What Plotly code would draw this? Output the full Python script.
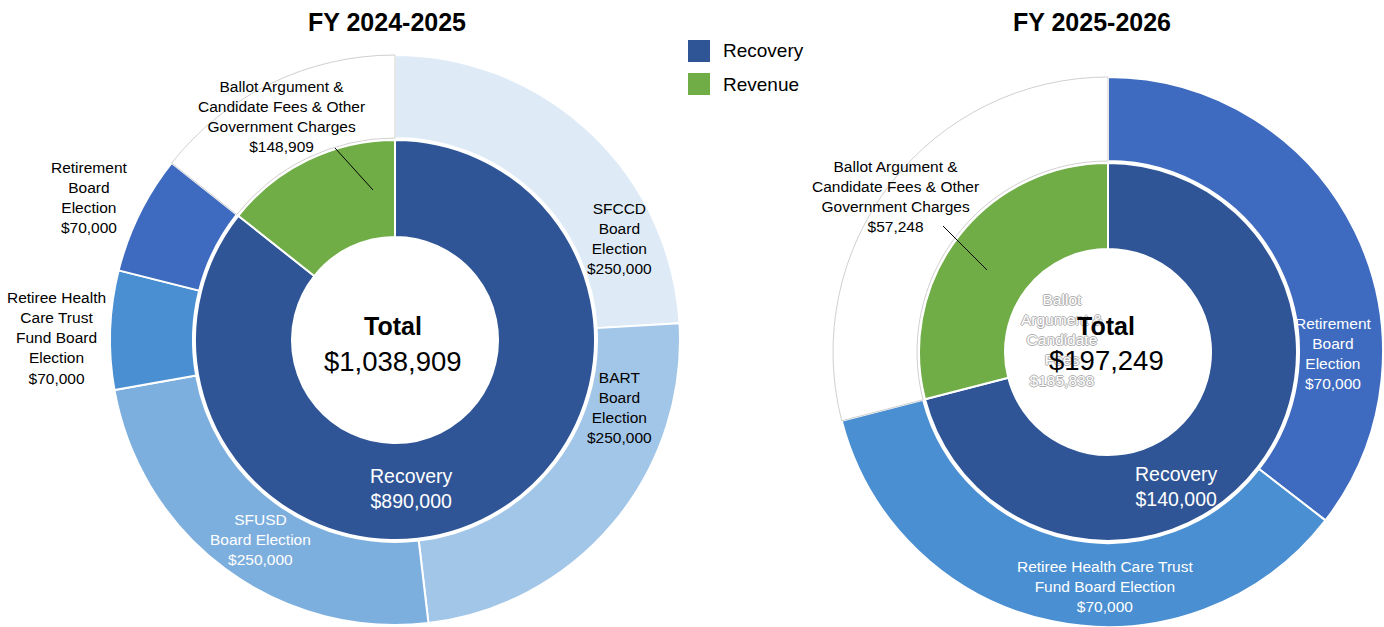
import plotly.graph_objects as go

W, H = 1384, 627

# ---------------- data ----------------
inner_labels = ["Recovery", "Revenue"]
fy24_inner_values = [890000, 148909]
fy25_inner_values = [140000, 57248]

fy24_outer_labels = ["SFCCD Board Election", "BART Board Election", "SFUSD Board Election",
                     "Retiree Health Care Trust Fund Board Election", "Retirement Board Election",
                     "Ballot Argument & Candidate Fees & Other Government Charges"]
fy24_outer_values = [250000, 250000, 250000, 70000, 70000, 148909]

fy25_outer_labels = ["Retirement Board Election", "Retiree Health Care Trust Fund Board Election",
                     "Ballot Argument & Candidate Fees & Other Government Charges"]
fy25_outer_values = [70000, 70000, 57248]

totals = [1038909, 197249]
titles = ["FY 2024-2025", "FY 2025-2026"]
ghost_value = 185838

# ---------------- style ----------------
C_REC = "#2F5597"
C_REV = "#70AD47"
fy24_outer_colors = ["#DEEBF7", "#A2C6E8", "#7DAFDE", "#4A8FD1", "#3E6BBF", "#FFFFFF"]
fy25_outer_colors = ["#3E6BBF", "#4A8FD1", "#FFFFFF"]
FONT = "Liberation Sans Narrow, Arial Narrow, Liberation Sans, Arial, sans-serif"
LBL = 15.5


def px(x):
    return x / W


def py(y):
    return 1 - y / H


def dom(cx, cy, r):
    return dict(x=[px(cx - r), px(cx + r)], y=[py(cy + r), py(cy - r)])


def money(v):
    return f"${v:,}"


# geometry (pixels)
L = dict(cx=395, cy=340, ro=285, ri=200, rh=103)
R = dict(cx=1108, cy=352, ro=275, ri=189, rh=103)

fig = go.Figure()


def add_pies(g, inner_vals, outer_labels, outer_vals, outer_colors):
    line_cols = ["#D0D0D0" if c == "#FFFFFF" else "white" for c in outer_colors]
    line_w = [1 if c == "#FFFFFF" else 2 for c in outer_colors]
    fig.add_trace(go.Pie(
        labels=outer_labels, values=outer_vals, sort=False, direction="clockwise", rotation=0,
        hole=(g["ri"] + 2) / g["ro"], domain=dom(g["cx"], g["cy"], g["ro"]),
        marker=dict(colors=outer_colors, line=dict(color=line_cols, width=line_w)),
        textinfo="none", showlegend=False, hoverinfo="label+value"))
    fig.add_trace(go.Pie(
        labels=inner_labels, values=inner_vals, sort=False, direction="clockwise", rotation=0,
        hole=g["rh"] / g["ri"], domain=dom(g["cx"], g["cy"], g["ri"]),
        marker=dict(colors=[C_REC, C_REV], line=dict(color="white", width=2)),
        textinfo="none", showlegend=False, hoverinfo="label+value"))


add_pies(L, fy24_inner_values, fy24_outer_labels, fy24_outer_values, fy24_outer_colors)
add_pies(R, fy25_inner_values, fy25_outer_labels, fy25_outer_values, fy25_outer_colors)

ann = []


def text(x, y, t, size=LBL, color="black", bold=False, shadow=None):
    f = dict(family=FONT, size=size, color=color)
    if bold:
        f["weight"] = "bold"
    if shadow:
        f["shadow"] = shadow
    ann.append(dict(x=px(x), y=py(y), xref="paper", yref="paper", text=t, showarrow=False,
                    xanchor="center", yanchor="middle", align="center", font=f))


# titles
text(387, 22, titles[0], size=25, bold=True)
text(1092, 22, titles[1], size=25, bold=True)

# left chart labels
text(281, 117, "Ballot Argument &<br>Candidate Fees & Other<br>Government Charges<br>" + money(fy24_outer_values[5]))
text(89, 197, "Retirement<br>Board<br>Election<br>" + money(fy24_outer_values[4]))
text(56, 338, "Retiree Health<br>Care Trust<br>Fund Board<br>Election<br>" + money(fy24_outer_values[3]))
text(619, 239, "SFCCD<br>Board<br>Election<br>" + money(fy24_outer_values[0]))
text(619, 407, "BART<br>Board<br>Election<br>" + money(fy24_outer_values[1]))
text(260, 539, "SFUSD<br>Board Election<br>" + money(fy24_outer_values[2]), color="white")
text(411, 488, "Recovery<br>" + money(fy24_inner_values[0]), size=19.5, color="white")

# right chart labels
text(895, 196, "Ballot Argument &<br>Candidate Fees & Other<br>Government Charges<br>" + money(fy25_outer_values[2]))
ghost_shadow = "1px 0 0 #b0b0b0, -1px 0 0 #b0b0b0, 0 1px 0 #b0b0b0, 0 -1px 0 #b0b0b0"
text(1062, 340, "Ballot<br>Argument &<br>Candidate<br>Fees<br>" + money(ghost_value), size=15.5,
     color="white", shadow=ghost_shadow)
text(1333, 353, "Retirement<br>Board<br>Election<br>" + money(fy25_outer_values[0]), color="white")
text(1176, 486, "Recovery<br>" + money(fy25_inner_values[0]), size=19.5, color="white")
text(1105, 586, "Retiree Health Care Trust<br>Fund Board Election<br>" + money(fy25_outer_values[1]), color="white")

# centre totals (drawn after the ghost text so they sit on top)
text(393, 326, "Total", size=25, bold=True)
text(393, 361, money(totals[0]), size=27.5)
text(1106, 326, "Total", size=25, bold=True)
text(1106, 360, money(totals[1]), size=27.5)

# legend
legend_colors = [C_REC, C_REV]
shapes = []
for i, (lab, col) in enumerate(zip(inner_labels, legend_colors)):
    y0 = 40 + i * 33
    shapes.append(dict(type="rect", xref="paper", yref="paper", x0=px(688), x1=px(710),
                       y0=py(y0 + 22), y1=py(y0), fillcolor=col, line=dict(width=0)))
    ann.append(dict(x=px(721), y=py(y0 + 11), xref="paper", yref="paper", text=lab, showarrow=False,
                    xanchor="left", yanchor="middle", font=dict(family=FONT, size=19, color="black")))

# leader lines
for (x0, y0, x1, y1) in [(335, 148, 373, 190), (943, 226, 987, 270)]:
    shapes.append(dict(type="line", xref="paper", yref="paper", x0=px(x0), y0=py(y0), x1=px(x1), y1=py(y1),
                       line=dict(color="black", width=1)))

fig.update_layout(width=W, height=H, margin=dict(l=0, r=0, t=0, b=0),
                  paper_bgcolor="white", plot_bgcolor="white",
                  annotations=ann, shapes=shapes, showlegend=False)

fig.write_html("out.html")
